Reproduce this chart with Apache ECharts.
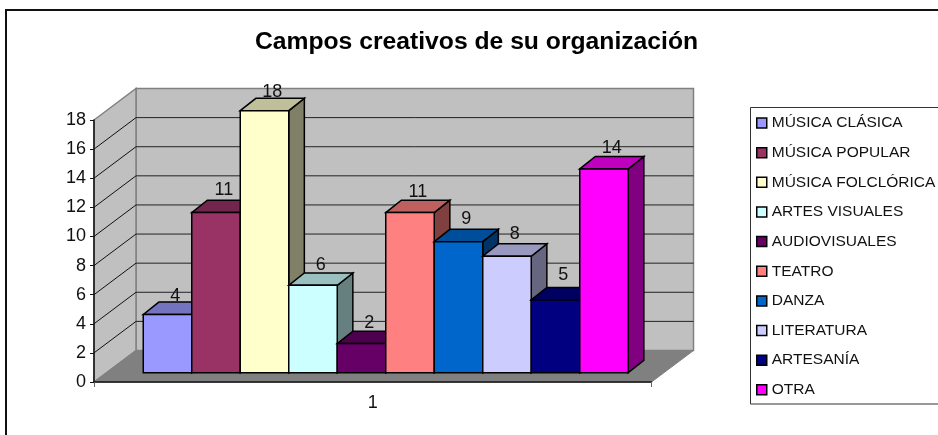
<!DOCTYPE html>
<html>
<head>
<meta charset="utf-8">
<title>Campos creativos de su organización</title>
<script src="https://cdn.jsdelivr.net/npm/echarts@6/dist/echarts.min.js"></script>
<style>
html, body { margin: 0; padding: 0; background: #fff; }
#chart { width: 938px; height: 435px; }
</style>
</head>
<body>
<div id="chart"></div>
<script>
var titleText = 'Campos creativos de su organización';
var categories = ['1'];
var seriesNames = ['MÚSICA CLÁSICA', 'MÚSICA POPULAR', 'MÚSICA FOLCLÓRICA', 'ARTES VISUALES', 'AUDIOVISUALES', 'TEATRO', 'DANZA', 'LITERATURA', 'ARTESANÍA', 'OTRA'];
var seriesValues = [4, 11, 18, 6, 2, 11, 9, 8, 5, 14];
var seriesColors = ['#9999FF', '#993366', '#FFFFCC', '#CCFFFF', '#660066', '#FF8080', '#0066CC', '#CCCCFF', '#000080', '#FF00FF'];
var yTicks = [0, 2, 4, 6, 8, 10, 12, 14, 16, 18];

var FONT = '"Liberation Sans", Arial, sans-serif';
// depth of the 3d box, front plane to back wall
var wallDx = 42, wallDy = 31.5;
// front face of the bars sits a bit inside the floor
var barInDx = 13, barInDy = 9.3;
var barDx = 15.6, barDy = 12.4;
var barWidth = 48.5;
// how far each value label sits above its bar, the original is not even
var labelLift = [6, 10, 6, 8, 8, 8, 10, 10, 12, 8];

function shade(hex, k) {
    var n = parseInt(hex.slice(1), 16);
    var r = Math.round((n >> 16 & 255) * k);
    var g = Math.round((n >> 8 & 255) * k);
    var b = Math.round((n & 255) * k);
    return 'rgb(' + r + ',' + g + ',' + b + ')';
}

function poly(points, fill, stroke, width) {
    return {
        type: 'polygon',
        shape: { points: points },
        style: { fill: fill, stroke: stroke, lineWidth: width }
    };
}

function line(x1, y1, x2, y2, color) {
    return {
        type: 'line',
        shape: { x1: x1, y1: y1, x2: x2, y2: y2 },
        style: { stroke: color, lineWidth: 1 }
    };
}

// walls and floor, one item per call of the axis ticks
function renderWalls(params, api) {
    var band = api.size([1, 0])[0];
    var c = api.coord([0, 0]);
    var left = c[0] - band / 2, right = c[0] + band / 2;
    var y0 = c[1];
    var yTop = api.coord([0, yTicks[yTicks.length - 1]])[1];
    var wallGray = '#808080';
    var kids = [
        poly([[left + wallDx, y0 - wallDy], [right + wallDx, y0 - wallDy], [right + wallDx, yTop - wallDy], [left + wallDx, yTop - wallDy]], '#C0C0C0', wallGray, 1.5),
        poly([[left, y0], [left + wallDx, y0 - wallDy], [left + wallDx, yTop - wallDy], [left, yTop]], '#C0C0C0', wallGray, 1.5),
        poly([[left, y0], [left + wallDx, y0 - wallDy], [right + wallDx, y0 - wallDy], [right, y0]], wallGray, wallGray, 1)
    ];
    for (var i = 1; i < yTicks.length - 1; i++) {
        var y = api.coord([0, yTicks[i]])[1];
        kids.push(line(left, y, left + wallDx, y - wallDy, '#111'));
        kids.push(line(left + wallDx, y - wallDy, right + wallDx, y - wallDy, '#222'));
    }
    return { type: 'group', children: kids };
}

function renderBar(index) {
    return function (params, api) {
        var band = api.size([1, 0])[0];
        var value = api.value(1);
        var top = api.coord([0, value]);
        var base = api.coord([0, 0]);
        var x0 = top[0] - band / 2 + barInDx + (band - barWidth * seriesValues.length) / 2 + barWidth * index;
        var x1 = x0 + barWidth;
        var yTop = top[1] - barInDy;
        var yBase = base[1] - barInDy;
        var color = seriesColors[index];
        return {
            type: 'group',
            children: [
                poly([[x1, yBase], [x1 + barDx, yBase - barDy], [x1 + barDx, yTop - barDy], [x1, yTop]], shade(color, 0.5), '#000', 1.5),
                poly([[x0, yTop], [x0 + barDx, yTop - barDy], [x1 + barDx, yTop - barDy], [x1, yTop]], shade(color, 0.75), '#000', 1.5),
                poly([[x0, yBase], [x1, yBase], [x1, yTop], [x0, yTop]], color, '#000', 1.5),
                {
                    type: 'text',
                    style: {
                        text: String(value),
                        x: (x0 + x1) / 2 + barDx / 2,
                        y: yTop - barDy - labelLift[index],
                        align: 'center',
                        verticalAlign: 'middle',
                        font: '18px ' + FONT,
                        fill: '#111'
                    }
                }
            ]
        };
    };
}

var series = [{
    name: 'walls',
    type: 'custom',
    renderItem: renderWalls,
    data: [[0, 0]],
    silent: true,
    z: 1
}];
for (var i = 0; i < seriesNames.length; i++) {
    series.push({
        name: seriesNames[i],
        type: 'custom',
        renderItem: renderBar(i),
        encode: { x: 0, y: 1 },
        data: [[0, seriesValues[i]]],
        itemStyle: { color: seriesColors[i] },
        z: 2 + i * 0.01
    });
}

var myChart = echarts.init(document.getElementById('chart'), null, { renderer: 'canvas' });
myChart.setOption({
    animation: false,
    backgroundColor: '#fff',
    title: {
        text: titleText,
        left: 471.5,
        top: 25,
        textAlign: 'center',
        textStyle: { fontFamily: FONT, fontSize: 24.7, fontWeight: 'bold', color: '#000' }
    },
    grid: { left: 94, right: 286.5, top: 120, bottom: 53 },
    xAxis: {
        type: 'category',
        data: categories,
        z: 5,
        axisLine: { lineStyle: { color: '#111', width: 1.5 } },
        axisTick: { show: true, length: 5, lineStyle: { color: '#666' } },
        axisLabel: { fontFamily: FONT, fontSize: 18, color: '#111', margin: 12 }
    },
    yAxis: {
        type: 'value',
        min: 0,
        max: 18,
        interval: 2,
        z: 5,
        axisLine: { show: true, lineStyle: { color: '#111', width: 1.5 } },
        axisTick: { show: true, length: 4, lineStyle: { color: '#111' } },
        axisLabel: { fontFamily: FONT, fontSize: 18, color: '#111', margin: 8 },
        splitLine: { show: false }
    },
    legend: {
        data: seriesNames,
        orient: 'vertical',
        left: 750,
        top: 107,
        padding: [7, 0, 0, 6],
        itemWidth: 10,
        itemHeight: 10,
        itemGap: 11.65,
        icon: 'rect',
        itemStyle: { borderColor: '#000', borderWidth: 1.5 },
        textStyle: { fontFamily: FONT, fontSize: 15.5, color: '#111', lineHeight: 18, padding: [0, 0, 0, 0] },
        selectedMode: false
    },
    graphic: [
        { type: 'polyline', shape: { points: [[6, 435], [6, 10], [938, 10]] }, style: { stroke: '#111', lineWidth: 2, fill: null }, z: 10 },
        { type: 'rect', shape: { x: 750.5, y: 107.5, width: 240, height: 296.5 }, style: { stroke: '#333', lineWidth: 1, fill: null }, z: 10 }
    ],
    series: series
});
</script>
</body>
</html>
